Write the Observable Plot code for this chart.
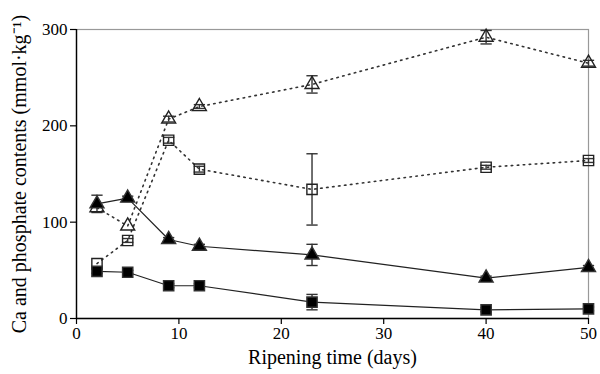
<!DOCTYPE html>
<html><head><meta charset="utf-8">
<script src="https://cdn.jsdelivr.net/npm/d3@7"></script>
<script src="https://cdn.jsdelivr.net/npm/@observablehq/plot@0.6"></script>
<style>body{margin:0;background:#fff}</style>
</head><body><div id="chart"></div>
<script>
const days = [2, 5, 9, 12, 23, 40, 50];
const openTriangle = [115, 96, 207, 220, 243, 292, 265];
const openTriangleErr = [0, 0, 3, 2, 9, 7, 3];
const openSquare = [57, 81, 185, 155, 134, 157, 164];
const openSquareErr = [0, 2, 3, 3, 37, 2, 2];
const filledTriangle = [119, 125, 82, 75, 66, 42, 53];
const filledTriangleErr = [9, 2, 2, 2, 11, 2, 2];
const filledSquare = [49, 48, 34, 34, 17, 9, 10];
const filledSquareErr = [2, 2, 2, 2, 8, 2, 2];
const xTicks = [0, 10, 20, 30, 40, 50];
const yTicks = [0, 100, 200, 300];

const FONT = "Liberation Serif";
const series = [
  {name: "openTriangle", vals: openTriangle, err: openTriangleErr, symbol: "triangle", filled: false},
  {name: "openSquare", vals: openSquare, err: openSquareErr, symbol: "square", filled: false},
  {name: "filledTriangle", vals: filledTriangle, err: filledTriangleErr, symbol: "triangle", filled: true},
  {name: "filledSquare", vals: filledSquare, err: filledSquareErr, symbol: "square", filled: true}
];
const rows = series.flatMap(s => days.map((d, i) => ({
  series: s.name, x: d, y: s.vals[i], lo: s.vals[i] - s.err[i], hi: s.vals[i] + s.err[i],
  symbol: s.symbol, filled: s.filled
})));
const dottedRows = rows.filter(r => !r.filled);
const solidRows = rows.filter(r => r.filled);
const errRows = rows.filter(r => r.hi - r.lo > 0);
const dotSet = (filled, symbol) => rows.filter(r => r.filled === filled && r.symbol === symbol);

const chart = Plot.plot({
  width: 600, height: 374,
  marginLeft: 76, marginRight: 12, marginTop: 29, marginBottom: 56,
  style: {fontFamily: FONT, fontSize: "17px", background: "white", color: "black"},
  x: {domain: [0, 50]},
  y: {domain: [0, 300]},
  marks: [
    Plot.frame({stroke: "#999", strokeWidth: 1.2}),
    Plot.axisX({ticks: xTicks, tickSize: 6, tickPadding: 2, label: null, fontSize: 17, fontFamily: FONT, fontVariant: "normal", strokeWidth: 1.2}),
    Plot.axisY({ticks: yTicks, tickSize: 6, tickPadding: 3, label: null, fontSize: 17, fontFamily: FONT, fontVariant: "normal", strokeWidth: 1.2}),
    Plot.ruleY([0], {stroke: "black", strokeWidth: 1.4}),
    Plot.ruleX([0], {stroke: "black", strokeWidth: 1.4}),
    Plot.line(dottedRows, {x: "x", y: "y", z: "series", stroke: "#333", strokeWidth: 1.6, strokeDasharray: "1.5,4.5"}),
    Plot.line(solidRows, {x: "x", y: "y", z: "series", stroke: "#222", strokeWidth: 1.2}),
    Plot.ruleX(errRows, {x: "x", y1: "lo", y2: "hi", stroke: "#333", strokeWidth: 1.4}),
    Plot.link(errRows, {x1: d => d.x - 0.55, x2: d => d.x + 0.55, y1: "hi", y2: "hi", stroke: "#333", strokeWidth: 1.4}),
    Plot.link(errRows, {x1: d => d.x - 0.55, x2: d => d.x + 0.55, y1: "lo", y2: "lo", stroke: "#333", strokeWidth: 1.4}),
    Plot.dot(dotSet(false, "triangle"), {x: "x", y: "y", symbol: "triangle", fill: "white", fillOpacity: 0, stroke: "#222", strokeWidth: 1.4, r: 5.2}),
    Plot.dot(dotSet(false, "square"), {x: "x", y: "y", symbol: "square", fill: "white", fillOpacity: 0, stroke: "#222", strokeWidth: 1.4, r: 5.8}),
    Plot.dot(dotSet(true, "triangle"), {x: "x", y: "y", symbol: "triangle", fill: "black", stroke: "#333", strokeWidth: 1.4, r: 5.2}),
    Plot.dot(dotSet(true, "square"), {x: "x", y: "y", symbol: "square", fill: "black", stroke: "#333", strokeWidth: 1.4, r: 5.8}),
    Plot.text(["Ripening time (days)"], {frameAnchor: "bottom", dy: 39, lineAnchor: "middle", fontSize: 20, fontFamily: FONT, text: d => d}),
    Plot.text(["Ca and phosphate contents (mmol·kg⁻¹)"], {frameAnchor: "left", dx: -57, rotate: -90, textAnchor: "middle", fontSize: 20, fontFamily: FONT, text: d => d})
  ]
});
d3.select(chart).selectAll("g, text").attr("font-family", FONT).attr("font-variant", null).style("font-family", FONT).style("font-variant", "normal");
document.getElementById("chart").appendChild(chart);
</script>
</body></html>
